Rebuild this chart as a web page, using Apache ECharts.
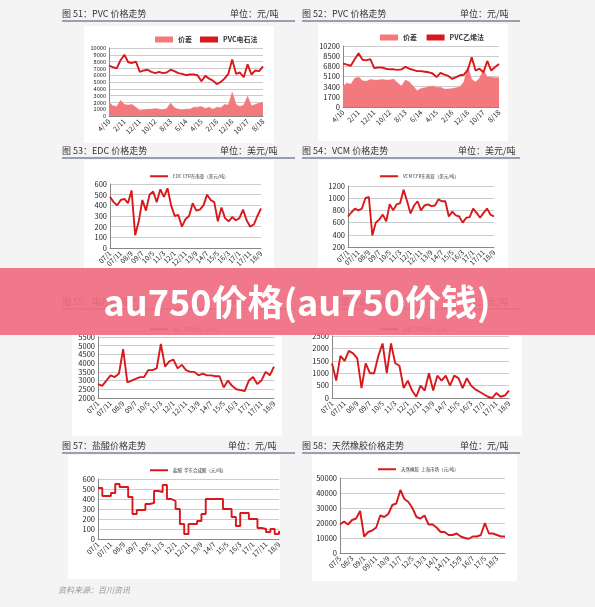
<!DOCTYPE html>
<html><head><meta charset="utf-8">
<script src="https://cdn.jsdelivr.net/npm/echarts@6/dist/echarts.min.js"></script>
<style>html,body{margin:0;padding:0;background:#f4f4f4}#c{width:595px;height:607px}</style>
</head><body><div id="c"></div>
<script>
const ticksPVC=['4/10','2/11','12/11','10/12','8/13','6/14','4/15','2/16','12/16','10/17','8/18'];
const ticksA=['07/1','07/11','08/9','09/7','10/5','11/3','12/1','12/11','13/9','14/7','15/5','16/3','17/1','17/11','18/9'];
const ticksR=['07/5','08/3','09/1','09/11','10/9','11/7','12/5','13/3','14/1','14/11','15/9','16/7','17/5','18/3'];
const pvc1Line=[7400,7200,7000,8200,9000,7900,7800,8000,6500,6700,6800,6500,6300,6500,6300,6400,6800,6600,6300,6200,6000,6100,6100,6000,5100,5900,5500,5200,4700,5000,5500,6200,8300,6200,6400,5700,7600,6100,6700,6600,7300];
const pvc1Spread=[2000,1500,1400,2300,1700,1600,1700,1300,800,900,1000,1000,1100,1000,900,1100,1900,1200,1000,900,1000,1000,1300,1300,1400,1100,1300,1000,1300,1200,1700,1600,3500,1700,1400,1600,2900,1500,1700,1900,2000];
const pvc2Line=[7300,7100,6900,8000,9000,7900,7800,8000,6500,6600,6600,6400,6300,6300,6200,6300,6700,6400,6200,6000,6000,5900,5800,5600,5000,5700,5400,5200,4700,5000,5300,5400,6200,8300,6100,6400,5800,7700,6100,6700,7200];
const pvc2Spread=[3500,4000,3800,4800,5000,4400,4300,4600,4500,4500,4600,4500,4500,4700,4000,3500,4500,4200,3500,2700,3100,3200,3400,3500,3300,3300,3000,3000,3100,3200,3400,4200,6800,4600,4200,4800,6200,5000,5000,4900,4900];
const edc=[480,430,400,450,460,420,540,120,250,450,350,500,530,430,550,480,560,400,300,310,200,270,300,420,350,360,400,500,450,430,250,380,280,250,290,260,280,360,260,200,220,300,370];
const vcm=[700,770,830,800,830,1000,1020,390,600,650,730,620,900,800,900,920,1140,950,750,880,950,800,880,900,870,880,980,950,950,700,780,720,700,600,680,690,830,760,680,760,830,730,700];
const carbide=[2800,2700,3000,3300,3200,3400,4800,2900,3000,3100,3200,3200,3600,3600,3700,5100,3800,4100,4200,3700,3900,3600,3500,3500,3300,3400,3300,3300,3250,3250,2600,3000,2700,2500,2450,2400,3000,3200,2800,3000,3500,3300,3800];
const chlorine=[1400,700,1700,1500,1900,1800,1600,400,1400,1000,1000,1700,2200,1000,2200,1400,1300,400,700,300,50,500,300,1000,300,900,700,900,500,900,800,400,800,500,350,250,150,50,0,200,50,100,300];
const hcl=[510,430,430,460,550,520,520,420,250,290,290,350,360,480,470,540,400,380,300,150,50,150,150,180,250,400,400,400,400,300,300,220,130,260,260,200,200,110,100,70,100,50,80];
const rubber=[19000,21000,19000,22000,23000,28000,11000,14000,15000,17000,25000,24000,26000,32000,33000,42000,36000,34000,30000,24000,23000,25000,19000,19000,17000,14000,14000,12000,12000,13000,11000,10000,9500,11000,11000,12000,20000,13000,13000,12000,11000,11000];

const RED='#d7191c', PINK='#f4797c';
const F='"Noto Sans CJK SC", sans-serif';
const cfgs=[
 {g:[109,48,154,68],d:[pvc1Spread,pvc1Line],n:['价差','PVC电石法'],t:ticksPVC,k:4,min:0,max:10000,iv:1000,lg:[150,31],fs:5.6},
 {g:[343,46,156,61],d:[pvc2Spread,pvc2Line],n:['价差 ','PVC乙烯法'],t:ticksPVC,k:4,min:0,max:10200,iv:1700,lg:[375,29]},
 {g:[110,184,151,64],d:[edc],n:['EDC CFR东南亚（美元/吨）'],t:ticksA,k:3,min:0,max:600,iv:100,lg:[145,169]},
 {g:[348,186,146,61],d:[vcm],n:['VCM CFR东南亚（美元/吨）'],t:ticksA,k:3,min:200,max:1200,iv:200,lg:[375,169]},
 {g:[98,337,176,61],d:[carbide],n:['电石  华东地区（元/吨）'],t:ticksA,k:3,min:2000,max:5500,iv:500,lg:[145,322]},
 {g:[332,336,177,62],d:[chlorine],n:['液氯  华东地区（元/吨）'],t:ticksA,k:3,min:0,max:2500,iv:500,lg:[375,322]},
 {g:[98,479,181,60],d:[hcl],n:['盐酸  华东合成酸（元/吨）'],t:ticksA,k:3,min:0,max:600,iv:100,lg:[145,463],step:true},
 {g:[340,478,165,75],d:[rubber],n:['天然橡胶  上海市场（元/吨）'],t:ticksR,k:3,min:0,max:50000,iv:10000,lg:[373,462]}
];
const grid=[],xAxis=[],yAxis=[],series=[],legend=[];
cfgs.forEach((c,i)=>{
  grid.push({left:c.g[0],top:c.g[1],width:c.g[2],height:c.g[3]});
  const n=c.d[c.d.length-1].length;
  xAxis.push({type:'category',gridIndex:i,boundaryGap:false,data:Array.from({length:n},(_,j)=>j),
    axisLine:{lineStyle:{color:'#888'}},axisTick:{show:false},
    axisLabel:{interval:0,rotate:45,fontSize:7,color:'#222',fontFamily:F,margin:4,
      formatter:(v,j)=>(j%c.k===0&&c.t[j/c.k])?c.t[j/c.k]:''}});
  yAxis.push({type:'value',gridIndex:i,min:c.min,max:c.max,interval:c.iv,
    axisLine:{show:true,lineStyle:{color:'#888'}},axisTick:{show:false},
    splitLine:{lineStyle:{color:'#aaa',width:0.6}},
    axisLabel:{fontSize:c.fs||7.5,color:'#222',fontFamily:F,margin:3,formatter:v=>String(v),
      showMinLabel:true,showMaxLabel:true,hideOverlap:false,interval:0}});
  c.d.forEach((arr,si)=>{
    const isArea=c.d.length===2&&si===0;
    series.push({type:'line',name:c.n[si],xAxisIndex:i,yAxisIndex:i,data:arr,symbol:'none',
      step:c.step?'end':false,
      lineStyle:{color:isArea?PINK:RED,width:isArea?0.5:1.9},
      itemStyle:{color:isArea?PINK:RED},
      areaStyle:isArea?{color:PINK,opacity:1}:undefined});
  });
  legend.push({left:c.lg[0],top:c.lg[1],data:c.n,itemWidth:18,itemHeight:c.d.length===2?6:2,itemGap:8,
    icon:'rect',textStyle:{fontSize:c.d.length===2?7:4.5,fontFamily:F,color:'#333',fontWeight:c.d.length===2?'bold':'normal'}});
});
const titles=[[62,14,'图 51：PVC 价格走势',230],[302,14,'图 52：PVC 价格走势',460],[62,151,'图 53：EDC 价格走势',220],[302,151,'图 54：VCM 价格走势',458],
 [62,302,'图 55：电石价格走势',228],[302,302,'图 56：液氯价格走势',460],[62,446,'图 57：盐酸价格走势',228],[302,446,'图 58：天然橡胶价格走势',460]];
const unitTxt=['单位：元/吨','单位：元/吨','单位：美元/吨','单位：美元/吨','单位：元/吨','单位：元/吨','单位：元/吨','单位：元/吨'];
const graphic=[];
[[84,26,190,117],[318,24,190,117],[84,160,190,120],[318,160,190,120],[72,310,210,126],[312,310,210,126],[68,455,212,124],[312,455,205,126]].forEach(r=>{
  graphic.push({type:'rect',shape:{x:r[0],y:r[1],width:r[2],height:r[3]},style:{fill:'#fff'},z:-10});
});
titles.forEach((t,i)=>{
  graphic.push({type:'text',x:t[0],y:t[1],style:{text:t[2],fontSize:9,fill:'#333',fontFamily:F,verticalAlign:'middle'}});
  graphic.push({type:'text',x:t[3],y:t[1],style:{text:unitTxt[i],fontSize:9,fill:'#333',fontFamily:F,verticalAlign:'middle'}});
  graphic.push({type:'line',shape:{x1:t[0],y1:t[1]+7,x2:t[0]+(t[0]<300?233:218),y2:t[1]+7},style:{stroke:'#3a4a7a',lineWidth:1}});
});
graphic.push({type:'text',x:58,y:590,style:{text:'资料来源：百川资讯',fontSize:8,fill:'#999',fontStyle:'italic',fontFamily:F,verticalAlign:'middle'}});
graphic.push({type:'rect',shape:{x:0,y:268,width:595,height:67},style:{fill:'rgba(240,108,128,0.92)'},z:50});
graphic.push({type:'text',x:297,y:302,z:51,style:{text:'au750价格(au750价钱)',fontSize:36,fontWeight:'bold',fill:'#fff',fontFamily:F,align:'center',verticalAlign:'middle'}});
const ch=echarts.init(document.getElementById('c'));
ch.setOption({animation:false,backgroundColor:'#f4f4f4',grid,xAxis,yAxis,series,legend,graphic});
</script></body></html>
